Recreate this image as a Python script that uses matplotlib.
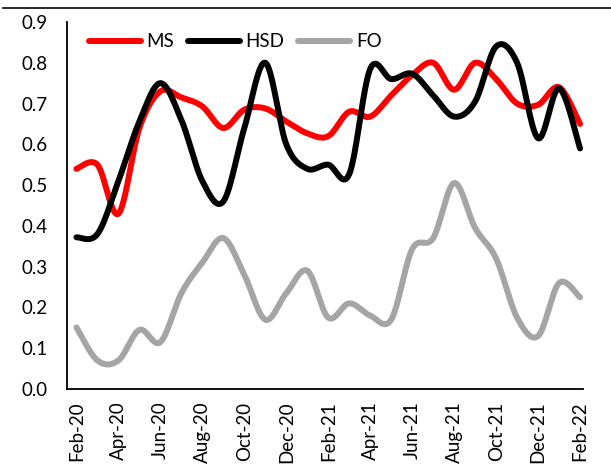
import numpy as np
import matplotlib
matplotlib.use("Agg")
import matplotlib.pyplot as plt
from matplotlib.lines import Line2D

plt.rcParams['font.family'] = ['Lato', 'DejaVu Sans']

months = ["Feb-20", "Mar-20", "Apr-20", "May-20", "Jun-20", "Jul-20", "Aug-20",
          "Sep-20", "Oct-20", "Nov-20", "Dec-20", "Jan-21", "Feb-21", "Mar-21",
          "Apr-21", "May-21", "Jun-21", "Jul-21", "Aug-21", "Sep-21", "Oct-21",
          "Nov-21", "Dec-21", "Jan-22", "Feb-22"]

ms = [0.54, 0.55, 0.43, 0.64, 0.73, 0.715, 0.693, 0.64, 0.685, 0.688, 0.656,
      0.627, 0.62, 0.68, 0.668, 0.72, 0.77, 0.80, 0.734, 0.80, 0.76, 0.70,
      0.697, 0.74, 0.65]
hsd = [0.372, 0.38, 0.51, 0.656, 0.75, 0.66, 0.51, 0.46, 0.64, 0.80, 0.60,
       0.54, 0.55, 0.527, 0.785, 0.76, 0.773, 0.72, 0.668, 0.705, 0.84, 0.80,
       0.615, 0.737, 0.59]
fo = [0.151, 0.07, 0.07, 0.145, 0.115, 0.235, 0.31, 0.37, 0.28, 0.17, 0.235,
      0.29, 0.175, 0.21, 0.18, 0.17, 0.343, 0.37, 0.505, 0.395, 0.32, 0.175,
      0.13, 0.26, 0.225]

series = [("MS", ms, "#FF0000"), ("HSD", hsd, "#000000"), ("FO", fo, "#A5A5A5")]


def smooth(x, y, n=30):
    """Bezier smoothing through every point (Catmull-Rom style control points)."""
    p = np.column_stack([x, y]).astype(float)
    ext = np.vstack([p[0], p, p[-1]])
    out = []
    t = np.linspace(0, 1, n)[:, None]
    for i in range(len(p) - 1):
        p0, p1, p2, p3 = ext[i], ext[i + 1], ext[i + 2], ext[i + 3]
        c1 = p1 + (p2 - p0) / 6.0
        c2 = p2 - (p3 - p1) / 6.0
        seg = ((1 - t) ** 3) * p1 + 3 * ((1 - t) ** 2) * t * c1 \
            + 3 * (1 - t) * t ** 2 * c2 + t ** 3 * p2
        out.append(seg if i == 0 else seg[1:])
    pts = np.vstack(out)
    return pts[:, 0], pts[:, 1]


W, H = 611, 466
fig = plt.figure(figsize=(W / 100, H / 100), dpi=100)
ax = fig.add_axes([67 / W, 1 - 389 / H, (583 - 67) / W, (389 - 22) / H])

x = np.arange(len(months))
for name, vals, col in series:
    sx, sy = smooth(x, vals)
    ax.plot(sx, sy, color=col, lw=4.3, solid_capstyle='round',
            solid_joinstyle='round', label=name)

ax.set_xlim(-0.45, 24.14)
ax.set_ylim(0, 0.9)
ax.set_yticks(np.arange(0, 0.91, 0.1))
ax.set_yticklabels([f"{v:.1f}" for v in np.arange(0, 0.91, 0.1)])
ax.set_xticks(x[::2])
ax.set_xticklabels(months[::2], rotation=90)
ax.tick_params(axis='y', length=0, pad=14, labelsize=13.5)
ax.tick_params(axis='x', length=0, pad=9, labelsize=13.5)

for s in ("top", "right"):
    ax.spines[s].set_visible(False)
for s in ("left", "bottom"):
    ax.spines[s].set_linewidth(1.3)

ax.legend(loc='upper left', bbox_to_anchor=(0.02, 1.0), ncol=3, frameon=False,
          fontsize=13.5, handlelength=2.8, handletextpad=0.3,
          columnspacing=0.7, borderaxespad=0.2)

fig.add_artist(Line2D([3 / W, 1], [1 - 8 / H, 1 - 8 / H], color='black',
                      lw=1.2, transform=fig.transFigure))

fig.savefig("out.png", dpi=100)
